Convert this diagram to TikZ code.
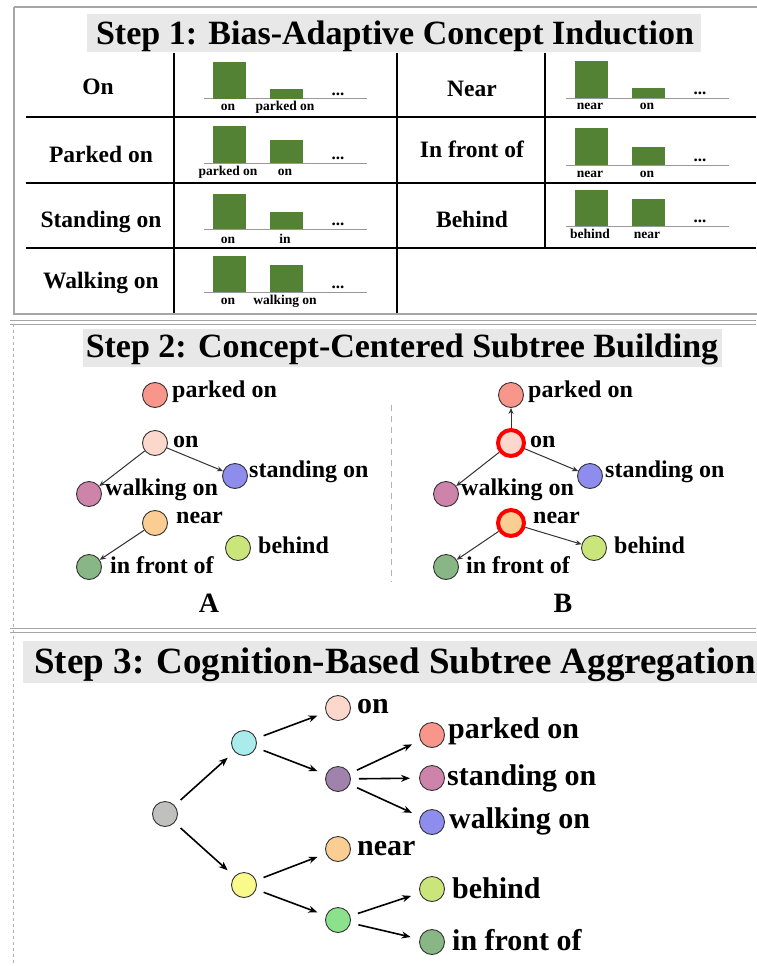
\documentclass[tikz,border=0pt]{standalone}
\usepackage{fontspec}
\setmainfont{Liberation Serif}
\usetikzlibrary{arrows.meta}
\definecolor{barg}{RGB}{84,130,53}
\definecolor{titlebg}{RGB}{232,232,232}
\definecolor{cpeach}{RGB}{252,216,204}
\definecolor{csalmon}{RGB}{248,150,140}
\definecolor{cblue}{RGB}{142,140,236}
\definecolor{cmauve}{RGB}{206,132,170}
\definecolor{corange}{RGB}{250,206,146}
\definecolor{cyg}{RGB}{202,230,122}
\definecolor{cdg}{RGB}{136,182,132}
\definecolor{cgray}{RGB}{192,192,190}
\definecolor{ccyan}{RGB}{170,236,236}
\definecolor{cyellow}{RGB}{250,250,140}
\definecolor{cpurple}{RGB}{160,130,172}
\definecolor{clgreen}{RGB}{140,226,140}
\newcommand\myfs[1]{\fontsize{#1}{#1}\selectfont}
% bar chart: name, x0, base y, top1, top2, label y, label1, label2
\newcommand\mybars[8]{%
  \draw[baseline] (#2,#3) -- ++(163,0);
  \fill[barg] (#2+8.5,#3) rectangle (#2+41.5,#4);
  \fill[barg] (#2+65.5,#3) rectangle (#2+98.5,#5);
  \node[dots] (#1d) at (#2+134,#3-3.5) {...};
  \node[blab] (#1a) at (#2+24,#6) {#7};
  \node[blab] (#1b) at (#2+81,#6) {#8};
}
\begin{document}
\begin{tikzpicture}[x=1pt,y=-1pt,
  baseline/.style={draw=black!40, line width=1pt},
  dots/.style={font=\bfseries\myfs{17}, inner sep=0pt, anchor=base},
  blab/.style={font=\bfseries\myfs{13.5}, inner sep=0pt, anchor=base},
  rowlab/.style={font=\bfseries\myfs{23.5}, inner sep=0pt, anchor=base},
  title/.style={font=\bfseries\myfs{34}, inner sep=0pt, anchor=base},
  tline/.style={line width=1.5pt, black},
  frame/.style={draw=black!35, line width=1pt},
  cnode/.style={circle, draw=black!80, line width=0.9pt, minimum size=25pt, inner sep=0pt},
  ring/.style={draw=red, line width=4pt, minimum size=26pt},
  lab/.style={font=\bfseries\myfs{24}, inner sep=0pt, anchor=base west},
  lab3/.style={font=\bfseries\myfs{30}, inner sep=0pt, anchor=base west},
  arr2/.style={-{Stealth[length=6pt,width=5pt]}, line width=1pt, black!80},
  arr3/.style={-{Stealth[length=9pt,width=7pt]}, line width=1.6pt, black, shorten <=8pt, shorten >=9pt}
]
\useasboundingbox (0,0) rectangle (756,966);
\fill[white] (0,0) rectangle (756,966);

% ---------------- Step 1 ----------------
\draw[draw=black!35, line width=2pt] (14,7) -- (760,7);
\draw[draw=black!35, line width=2pt] (14,7) -- (14,314) -- (760,314);
\fill[titlebg] (87,14) rectangle (701,52);
\node[title] (t1) at (395,45) {Step 1: Bias-Adaptive Concept Induction};

\draw[tline] (174,53) -- (174,313);
\draw[tline] (397,53) -- (397,313);
\draw[tline] (545,53) -- (545,248);
\draw[tline] (26,117) -- (756,117);
\draw[tline] (26,183) -- (756,183);
\draw[tline] (26,248) -- (756,248);

\node[rowlab] (r1) at (98,94) {On};
\node[rowlab] (r2) at (101,162) {Parked on};
\node[rowlab] (r3) at (101,227) {Standing on};
\node[rowlab] (r4) at (101,288) {Walking on};
\node[rowlab] (r5) at (472,96) {Near};
\node[rowlab] (r6) at (472,157) {In front of};
\node[rowlab] (r7) at (472,227) {Behind};

\mybars{ba}{204}{98.5}{62}{89}{110.5}{on}{parked on}
\mybars{bb}{204}{163}{126}{140}{175}{parked on}{on}
\mybars{bc}{204}{229}{194}{212}{243}{on}{in}
\mybars{bd}{204}{292}{256}{265}{304}{on}{walking on}
\mybars{be}{566}{98}{61}{88}{109}{near}{on}
\mybars{bf}{566}{165}{128}{147}{177}{near}{on}
\mybars{bg}{566}{226}{190}{199}{238}{behind}{near}

% ---------------- Step 2 ----------------
\draw[frame] (10,320) -- (756,320);
\draw[frame] (10,324) -- (756,324);
\draw[draw=black!30, line width=1pt, dashed] (13,324) -- (13,966);
\fill[titlebg] (83,329) rectangle (722,367);
\node[title] (t2) at (402,357) {Step 2: Concept-Centered Subtree Building};
\draw[draw=black!30, line width=1pt, dash pattern=on 6pt off 5pt] (391,405) -- (391,582);

% panel A
\node[cnode, fill=csalmon] (apark) at (155,395) {};
\node[cnode, fill=cpeach] (aon) at (155,443) {};
\node[cnode, fill=cblue] (astand) at (235,476) {};
\node[cnode, fill=cmauve] (awalk) at (89,494) {};
\node[cnode, fill=corange] (anear) at (155,523) {};
\node[cnode, fill=cyg] (abehind) at (238,548) {};
\node[cnode, fill=cdg] (afront) at (89,567) {};
\node[lab] (lapark) at (172,397) {parked on};
\node[lab] (laon) at (173,447) {on};
\node[lab] (lastand) at (249,477) {standing on};
\node[lab] (lawalk) at (105,495) {walking on};
\node[lab] (lanear) at (176,523) {near};
\node[lab] (labehind) at (258,553) {behind};
\node[lab] (lafront) at (110,573) {in front of};
\node[font=\bfseries\myfs{28}, inner sep=0pt, anchor=base] (labA) at (209,612) {A};
\draw[arr2] (aon) -- (awalk);
\draw[arr2] (aon) -- (astand);
\draw[arr2] (anear) -- (afront);

% panel B
\node[cnode, fill=csalmon] (bpark) at (511,395) {};
\node[cnode, fill=cpeach, ring] (bon) at (511,443) {};
\node[cnode, fill=cblue] (bstand) at (590,476) {};
\node[cnode, fill=cmauve] (bwalk) at (446,494) {};
\node[cnode, fill=corange, ring] (bnear) at (511,523) {};
\node[cnode, fill=cyg] (bbehind) at (594,548) {};
\node[cnode, fill=cdg] (bfront) at (446,567) {};
\node[lab] (lbpark) at (528,397) {parked on};
\node[lab] (lbon) at (530,447) {on};
\node[lab] (lbstand) at (605,477) {standing on};
\node[lab] (lbwalk) at (461,495) {walking on};
\node[lab] (lbnear) at (533,523) {near};
\node[lab] (lbbehind) at (614,553) {behind};
\node[lab] (lbfront) at (466,573) {in front of};
\node[font=\bfseries\myfs{28}, inner sep=0pt, anchor=base] (labB) at (563,612) {B};
\draw[arr2] (bon) -- (bpark);
\draw[arr2] (bon) -- (bwalk);
\draw[arr2] (bon) -- (bstand);
\draw[arr2] (bnear) -- (bfront);
\draw[arr2] (bnear) -- (bbehind);

% ---------------- Step 3 ----------------
\draw[frame] (10,628) -- (756,628);
\draw[frame] (10,632) -- (756,632);
\fill[titlebg] (23,641) rectangle (760,683);
\node[title, font=\bfseries\myfs{37}] (t3) at (395,673) {Step 3: Cognition-Based Subtree Aggregation};

\node[cnode, fill=cgray] (root) at (165,814) {};
\node[cnode, fill=ccyan] (c1) at (244,743) {};
\node[cnode, fill=cyellow] (c2) at (244,885) {};
\node[cnode, fill=cpeach] (son) at (338,708) {};
\node[cnode, fill=cpurple] (spur) at (338,779) {};
\node[cnode, fill=corange] (snear) at (338,849) {};
\node[cnode, fill=clgreen] (slg) at (338,920) {};
\node[cnode, fill=csalmon] (spark) at (432,735) {};
\node[cnode, fill=cmauve] (sstand) at (432,778) {};
\node[cnode, fill=cblue] (swalk) at (432,822) {};
\node[cnode, fill=cyg] (sbehind) at (432,889) {};
\node[cnode, fill=cdg] (sfront) at (432,942) {};
\node[lab3] (lson) at (357,713) {on};
\node[lab3] (lspark) at (448,738) {parked on};
\node[lab3] (lsstand) at (447,785) {standing on};
\node[lab3] (lswalk) at (449,828) {walking on};
\node[lab3] (lsnear) at (357,855) {near};
\node[lab3] (lsbehind) at (452,898) {behind};
\node[lab3] (lsfront) at (452,950) {in front of};
\draw[arr3] (root) -- (c1);
\draw[arr3] (root) -- (c2);
\draw[arr3] (c1) -- (son);
\draw[arr3] (c1) -- (spur);
\draw[arr3] (c2) -- (snear);
\draw[arr3] (c2) -- (slg);
\draw[arr3] (spur) -- (spark);
\draw[arr3] (spur) -- (sstand);
\draw[arr3] (spur) -- (swalk);
\draw[arr3] (slg) -- (sbehind);
\draw[arr3] (slg) -- (sfront);
\end{tikzpicture}
\end{document}
